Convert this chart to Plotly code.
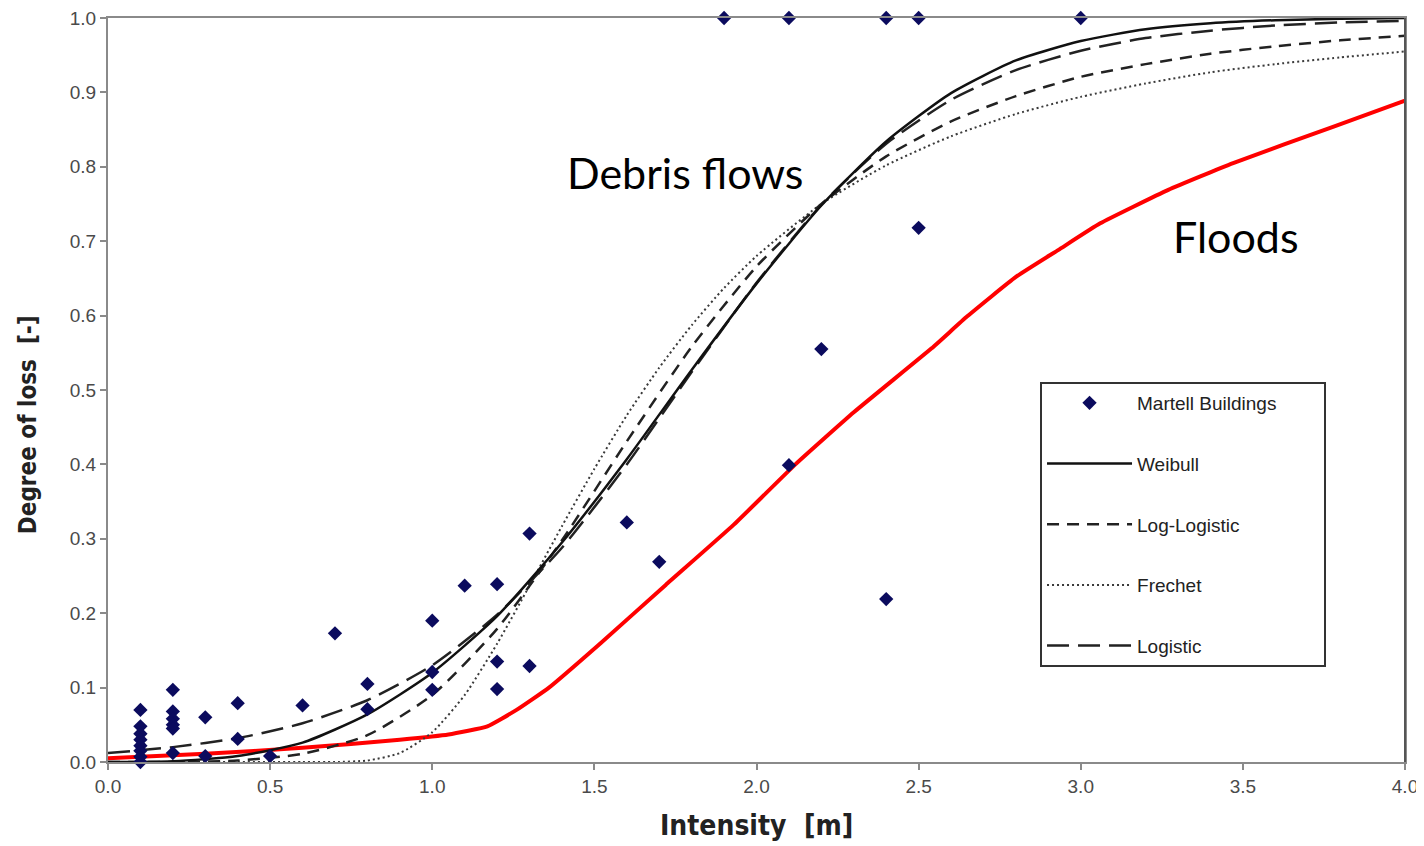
import plotly.graph_objects as go

# Observed data points (Martell buildings)
obs_x = [0.1, 0.1, 0.1, 0.1, 0.1, 0.1, 0.1, 0.1,
         0.2, 0.2, 0.2, 0.2, 0.2, 0.2,
         0.3, 0.3, 0.4, 0.4, 0.5, 0.6, 0.7, 0.8, 0.8,
         1.0, 1.0, 1.0, 1.1, 1.2, 1.2, 1.2, 1.3, 1.3,
         1.6, 1.7, 2.1, 2.2, 2.4, 2.5,
         1.9, 2.1, 2.4, 2.5, 3.0]
obs_y = [0.07, 0.048, 0.038, 0.03, 0.022, 0.015, 0.007, 0.0,
         0.097, 0.068, 0.058, 0.05, 0.045, 0.012,
         0.06, 0.008, 0.079, 0.031, 0.008, 0.076, 0.173, 0.105, 0.071,
         0.19, 0.121, 0.097, 0.237, 0.239, 0.135, 0.098, 0.307, 0.129,
         0.322, 0.269, 0.399, 0.555, 0.219, 0.718,
         1.0, 1.0, 1.0, 1.0, 1.0]

# Fitted curves
curve_x = [0.0, 0.2, 0.4, 0.6, 0.8, 1.0, 1.2, 1.4, 1.6, 1.8, 2.0,
           2.2, 2.4, 2.6, 2.8, 3.0, 3.2, 3.4, 3.6, 3.8, 4.0]
weibull_y = [0.0, 0.001, 0.008, 0.026, 0.064, 0.12, 0.196, 0.295, 0.407, 0.527, 0.643,
             0.748, 0.834, 0.899, 0.943, 0.969, 0.985, 0.993, 0.997, 0.999, 1.0]
loglogistic_y = [0.0, 0.0001, 0.002, 0.011, 0.036, 0.09, 0.179, 0.298, 0.431, 0.558, 0.666,
                 0.75, 0.814, 0.861, 0.895, 0.921, 0.938, 0.952, 0.962, 0.970, 0.976]
logistic_y = [0.012, 0.020, 0.032, 0.052, 0.083, 0.130, 0.198, 0.288, 0.400, 0.524, 0.644,
              0.749, 0.831, 0.890, 0.930, 0.956, 0.973, 0.983, 0.990, 0.994, 0.996]
frechet_x = [0.0, 0.2, 0.4, 0.6, 0.7, 0.8, 0.9, 1.0, 1.1, 1.2, 1.3, 1.4, 1.5, 1.6, 1.7,
             1.8, 1.9, 2.0, 2.2, 2.4, 2.6, 2.8, 3.0, 3.2, 3.4, 3.6, 3.8, 4.0]
frechet_y = [0.0, 0.0, 0.0, 0.0, 0.0, 0.002, 0.012, 0.04, 0.09, 0.159, 0.237, 0.317, 0.394,
             0.466, 0.530, 0.587, 0.637, 0.68, 0.75, 0.802, 0.841, 0.871, 0.894, 0.912,
             0.927, 0.938, 0.947, 0.955]

# Floods curve
flood_x = [0.0, 0.3, 0.6, 0.9, 1.05, 1.17, 1.26, 1.36, 1.52, 1.72, 1.93, 2.12, 2.3,
           2.54, 2.65, 2.8, 2.93, 3.06, 3.27, 3.47, 3.78, 4.0]
flood_y = [0.005, 0.011, 0.019, 0.030, 0.037, 0.048, 0.07, 0.10, 0.16, 0.238, 0.319,
           0.40, 0.47, 0.556, 0.599, 0.652, 0.688, 0.724, 0.769, 0.805, 0.854, 0.889]

x_ticks = [0.0, 0.5, 1.0, 1.5, 2.0, 2.5, 3.0, 3.5, 4.0]
y_ticks = [0.0, 0.1, 0.2, 0.3, 0.4, 0.5, 0.6, 0.7, 0.8, 0.9, 1.0]

fig = go.Figure()

fig.add_trace(go.Scatter(
    x=flood_x, y=flood_y, mode="lines", line=dict(color="#ff0000", width=4, shape="spline", smoothing=0.4),
    showlegend=False, hoverinfo="skip"))

fig.add_trace(go.Scatter(
    x=frechet_x, y=frechet_y, mode="lines", name="Frechet", legendgroup="d", legendrank=4,
    line=dict(color="#3a3a3a", width=2, dash="2px,3px", shape="spline", smoothing=0.6)))
fig.add_trace(go.Scatter(
    x=curve_x, y=loglogistic_y, mode="lines", name="Log-Logistic", legendgroup="c", legendrank=3,
    line=dict(color="#222222", width=2.5, dash="12px,8px", shape="spline", smoothing=0.6)))
fig.add_trace(go.Scatter(
    x=curve_x, y=logistic_y, mode="lines", name="Logistic", legendgroup="e", legendrank=5,
    line=dict(color="#222222", width=2.5, dash="22px,9px", shape="spline", smoothing=0.6)))
fig.add_trace(go.Scatter(
    x=curve_x, y=weibull_y, mode="lines", name="Weibull", legendgroup="b", legendrank=2,
    line=dict(color="#111111", width=2.5, shape="spline", smoothing=0.6)))
fig.add_trace(go.Scatter(
    x=obs_x, y=obs_y, mode="markers",
    name="Martell Buildings&nbsp;&nbsp;&nbsp;&nbsp;&nbsp;&nbsp;&nbsp;&nbsp;",
    legendgroup="a", legendrank=1,
    marker=dict(symbol="diamond", size=11, color="#0b0b5e"), cliponaxis=False))

tick_font = dict(family="Liberation Sans, Arial, sans-serif", size=19, color="#4a4a4a")

fig.update_xaxes(
    range=[0, 4], tickvals=x_ticks, tickformat=".1f", ticks="outside", ticklen=6,
    tickcolor="#8a8a8a", tickwidth=2, showline=True, linecolor="#8a8a8a", linewidth=2,
    mirror=True, showgrid=False, zeroline=False, tickfont=tick_font, automargin=False,
    ticklabeloverflow="allow")
fig.update_yaxes(
    range=[0, 1], tickvals=y_ticks, tickformat=".1f", ticks="outside", ticklen=6,
    tickcolor="#8a8a8a", tickwidth=2, showline=True, linecolor="#8a8a8a", linewidth=2,
    mirror=True, showgrid=False, zeroline=False, tickfont=tick_font, automargin=False,
    ticklabeloverflow="allow")

fig.add_shape(type="line", xref="paper", yref="paper", x0=1, x1=1, y0=0, y1=1,
              line=dict(color="#555555", width=2))

title_font_x = dict(family="DejaVu Sans Condensed, Liberation Sans Narrow, Arial Narrow, sans-serif",
                    size=28, color="#222222")
title_font_y = dict(family="DejaVu Sans Condensed, Liberation Sans Narrow, Arial Narrow, sans-serif",
                    size=24, color="#222222")
fig.add_annotation(text="<b>Intensity  [m]</b>", xref="paper", yref="paper", x=0.5, y=-0.086,
                   showarrow=False, font=title_font_x, xanchor="center", yanchor="middle")
fig.add_annotation(text="<b>Degree of loss  [-]</b>", xref="paper", yref="paper", x=-0.0617, y=0.454,
                   showarrow=False, font=title_font_y, textangle=-90, xanchor="center", yanchor="middle")

label_font = dict(family="Lato, Open Sans, sans-serif", size=43, color="#000000")
fig.add_annotation(text="Debris flows", x=1.78, y=0.793, showarrow=False, font=label_font)
fig.add_annotation(text="Floods", x=3.48, y=0.706, showarrow=False, font=label_font)

fig.update_layout(
    width=1416, height=838,
    margin=dict(l=100, r=19, t=10, b=84),
    paper_bgcolor="white", plot_bgcolor="white",
    legend=dict(
        x=0.7186, y=0.5108, xanchor="left", yanchor="top",
        bordercolor="#333333", borderwidth=2, bgcolor="white",
        font=dict(family="Liberation Sans, Arial, sans-serif", size=19, color="#222222"),
        traceorder="grouped", tracegroupgap=33, itemwidth=85),
)

fig.write_html("out.html")
